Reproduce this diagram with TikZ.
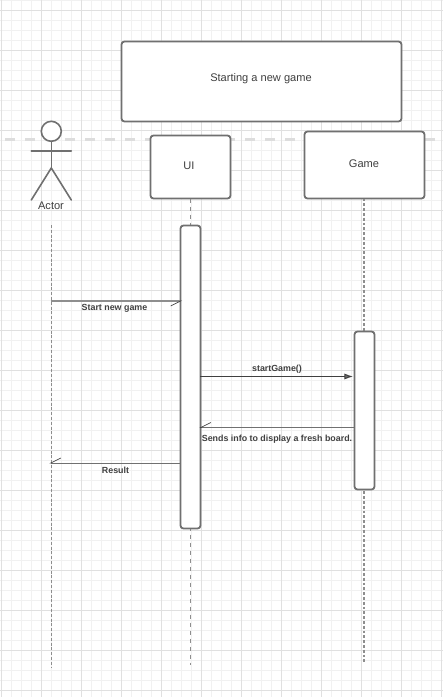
\documentclass[tikz,border=0pt]{standalone}
\usepackage{fontspec}
\setmainfont{Liberation Sans}
\usetikzlibrary{arrows.meta}
\definecolor{gridminor}{HTML}{F1F1F1}
\definecolor{gridmajor}{HTML}{E0E0E0}
\definecolor{swim}{HTML}{DDDDDD}
\definecolor{edge}{HTML}{707070}
\definecolor{ink}{HTML}{404040}
\definecolor{life}{HTML}{8E8E8E}
\tikzset{
  x=0.75pt,y=-0.75pt,
  px/.style={line width=#1*0.75pt},
  box/.style={draw=edge,px=1.8,fill=white,rounded corners=2.2pt,inner sep=0pt,outer sep=0pt,anchor=north west},
  lbl/.style={font=\fontsize{8.3pt}{10pt}\selectfont,text=ink,inner sep=0pt},
  msglbl/.style={font=\fontsize{6.65pt}{8pt}\selectfont\bfseries,text=ink,inner sep=0pt},
  lifeline/.style={draw=life,px=1.6,dash pattern=on 2.2pt off 1.4pt},
  lifedash/.style={draw=life,px=1.4,dash pattern=on 3.4pt off 2.6pt},
  stick/.style={draw=edge,px=1.6,line cap=round},
  msgsolid/.style={draw=ink,px=1,-{Latex[length=6.5pt,width=4.6pt,fill=edge]}},
  msghalf/.style={draw=life,px=1.2,shorten >=-1.2pt,-{Straight Barb[harpoon,swap,length=7.5pt,width=7.5pt,line width=0.5pt,ink]}},
  msghalfb/.style={draw=edge,px=1,shorten >=-1.2pt,-{Straight Barb[harpoon,swap,length=7.5pt,width=7.5pt,line width=0.5pt,ink]}},
}
\begin{document}
\begin{tikzpicture}
\useasboundingbox (0,0) rectangle (443,697);
\fill[white] (0,0) rectangle (443,697);
% grid
\foreach \k in {0,...,44}{\draw[gridminor,px=1] ({1.5+10*\k},0) -- ({1.5+10*\k},697);}
\foreach \k in {0,...,69}{\draw[gridminor,px=1] (0,{0.5+10*\k}) -- (443,{0.5+10*\k});}
\foreach \k in {0,...,11}{\draw[gridmajor,px=1] ({1.5+40*\k},0) -- ({1.5+40*\k},697);}
\foreach \k in {0,...,17}{\draw[gridmajor,px=1] (0,{10.5+40*\k}) -- (443,{10.5+40*\k});}
% swimlane band
\coordinate (bandL) at (5,139);
\coordinate (bandR) at (435,139);
\draw[swim,px=3,dash pattern=on 7.5pt off 7.5pt] (bandL) -- (bandR);
% lifelines
\coordinate (actTop) at (51.3,225);
\coordinate (actEnd) at (51.3,668);
\coordinate (uiEnd) at (190.5,665);
\coordinate (gameEnd) at (364,664);
\node[box,minimum width=60pt,minimum height=47.25pt] (ui) at (150.5,135.5) {};
\node[box,minimum width=90pt,minimum height=50.25pt] (game) at (304.5,131.5) {};
\node[box,minimum width=210pt,minimum height=60pt] (title) at (121.5,41.5) {};
\node[lbl] (uiT) at (189,166) {UI};
\node[lbl] (gameT) at (364,164) {Game};
\node[lbl] (titleT) at (261,79) {Starting a new game};
\draw[lifeline] (actTop) -- (actEnd);
\draw[lifedash] (ui.south -| uiEnd) -- (uiEnd);
\draw[lifeline] (game.south -| gameEnd) -- (gameEnd);
% activations
\node[box,minimum width=15pt,minimum height=227.25pt] (uiA) at (180.5,225.5) {};
\node[box,minimum width=15pt,minimum height=118.5pt] (gameA) at (354.5,331.5) {};
% actor
\node[draw=edge,px=1.6,fill=white,circle,minimum size=15pt,inner sep=0pt,outer sep=0pt] (head) at (51.3,131.3) {};
\coordinate (hip) at (51.3,168);
\coordinate (armL) at (31.3,151);
\coordinate (armR) at (71.3,151);
\coordinate (legL) at (31.3,200);
\coordinate (legR) at (71.3,200);
\draw[stick] (head.south) -- (hip);
\draw[stick] (armL) -- (armR);
\draw[stick] (legL) -- (hip) -- (legR);
\node[lbl] (actT) at (51,205.5) {Actor};
% messages
\coordinate (m1) at (51,301);
\coordinate (m2) at (200,376.5);
\coordinate (m2e) at (353,376.5);
\coordinate (m3) at (354,427.5);
\coordinate (m3e) at (201,427.5);
\coordinate (m4) at (180,463);
\coordinate (m4e) at (51,463);
\draw[msghalf] (m1) -- (uiA.west |- m1);
\draw[msgsolid] (m2) -- (m2e);
\draw[msghalfb] (m3) -- (m3e);
\draw[msghalfb] (m4) -- (m4e);
\node[msglbl] (l1) at (114.5,308) {Start new game};
\node[msglbl] (l2) at (277,369) {startGame()};
\node[msglbl] (l3) at (277,439) {Sends info to display a fresh board.};
\node[msglbl] (l4) at (115.5,470) {Result};
\end{tikzpicture}
\end{document}
